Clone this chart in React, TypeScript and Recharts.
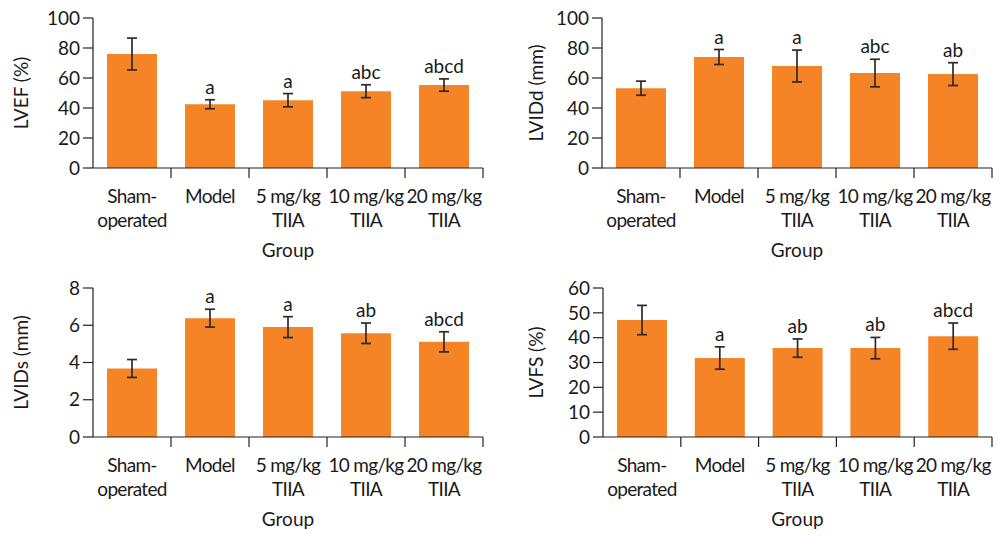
import React from 'react';
import { BarChart, Bar, XAxis, YAxis, ErrorBar, LabelList } from 'recharts';

const groups = ['Sham-operated', 'Model', '5 mg/kg TIIA', '10 mg/kg TIIA', '20 mg/kg TIIA'];
const groupLines = [['Sham-', 'operated'], ['Model'], ['5 mg/kg', 'TIIA'], ['10 mg/kg', 'TIIA'], ['20 mg/kg', 'TIIA']];

const lvefMean = [76, 42.5, 45.2, 51.2, 55.3];
const lvefErr = [10.6, 3, 4.4, 4.3, 4.1];
const lvefSig = ['', 'a', 'a', 'abc', 'abcd'];
const lvefTicks = [0, 20, 40, 60, 80, 100];

const lviddMean = [53.2, 74, 68, 63.3, 62.6];
const lviddErr = [4.7, 5, 10.6, 9.2, 7.6];
const lviddSig = ['', 'a', 'a', 'abc', 'ab'];
const lviddTicks = [0, 20, 40, 60, 80, 100];

const lvidsMean = [3.68, 6.38, 5.9, 5.57, 5.11];
const lvidsErr = [0.48, 0.48, 0.56, 0.55, 0.54];
const lvidsSig = ['', 'a', 'a', 'ab', 'abcd'];
const lvidsTicks = [0, 2, 4, 6, 8];

const lvfsMean = [47.1, 31.8, 35.8, 35.8, 40.6];
const lvfsErr = [5.9, 4.5, 3.7, 4.3, 5.3];
const lvfsSig = ['', 'a', 'ab', 'ab', 'abcd'];
const lvfsTicks = [0, 10, 20, 30, 40, 50, 60];

const FONT = 'Lato, "Open Sans", sans-serif';
const FS = 19;
const TEXT = '#1a1a1a';
const AXIS = '#222222';
const BAR = '#F58426';
const TICK = 10;

type PanelProps = {
  means: number[];
  errs: number[];
  sigs: string[];
  ticks: number[];
  yLabel: string;
  left: number;
  top: number;
  height: number;
  plotLeft: number;
  plotRight: number;
  yLabelX: number;
};

const XTick = (props: any) => {
  const { x, y, payload, width } = props;
  const idx = groups.indexOf(payload.value);
  const off = payload.offset != null ? payload.offset : width / (2 * groups.length);
  const lines = groupLines[idx] || [String(payload.value)];
  return (
    <g>
      <line x1={x + off} x2={x + off} y1={y - TICK} y2={y} stroke={AXIS} strokeWidth={1.2} />
      <text x={x} y={y} textAnchor="middle" fontSize={FS} fontFamily={FONT} fill={TEXT} letterSpacing={-0.7}>
        {lines.map((l, i) => (
          <tspan key={i} x={x} dy={i === 0 ? 25 : 24}>
            {l}
          </tspan>
        ))}
      </text>
    </g>
  );
};

function Panel(p: PanelProps) {
  const data = groups.map((g, i) => ({ name: g, mean: p.means[i], err: p.errs[i], sig: p.sigs[i] }));
  const width = 499;
  const plotTop = 18;
  const xAxisHeight = 102;
  const yMax = p.ticks[p.ticks.length - 1];

  const sigLabel = (lp: any) => {
    const { x, y, width: w, height: h, index, value } = lp;
    if (!value) return null;
    const m = p.means[index];
    const pxPerUnit = h / m;
    const errTop = y - p.errs[index] * pxPerUnit;
    return (
      <text x={x + w / 2} y={errTop - 6} textAnchor="middle" fontSize={FS} fontFamily={FONT} fill={TEXT}>
        {value}
      </text>
    );
  };

  const yLabelContent = (lp: any) => {
    const vb = lp.viewBox || {};
    const cy = vb.y + vb.height / 2;
    return (
      <text
        x={p.yLabelX}
        y={cy}
        transform={`rotate(-90, ${p.yLabelX}, ${cy})`}
        textAnchor="middle"
        dominantBaseline="central"
        fontSize={FS}
        fontFamily={FONT}
        fill={TEXT}
      >
        {p.yLabel}
      </text>
    );
  };

  const xLabelContent = (lp: any) => {
    const vb = lp.viewBox || {};
    return (
      <text x={vb.x + vb.width / 2} y={vb.y + 89} textAnchor="middle" fontSize={FS} fontFamily={FONT} fill={TEXT}>
        Group
      </text>
    );
  };

  return (
    <div style={{ position: 'absolute', left: p.left, top: p.top, width, height: p.height }}>
      <BarChart
        width={width}
        height={p.height}
        data={data}
        margin={{ top: plotTop, right: width - p.plotRight, bottom: 0, left: 0 }}
      >
        <XAxis
          dataKey="name"
          height={xAxisHeight}
          interval={0}
          tickLine={false}
          tickSize={TICK}
          tickMargin={0}
          axisLine={{ stroke: AXIS, strokeWidth: 1.2 }}
          tick={<XTick />}
          label={{ content: xLabelContent }}
        />
        <YAxis
          width={p.plotLeft}
          domain={[0, yMax]}
          ticks={p.ticks}
          interval={0}
          tickSize={TICK}
          tickMargin={3}
          axisLine={{ stroke: AXIS, strokeWidth: 1.2 }}
          tickLine={{ stroke: AXIS, strokeWidth: 1.2 }}
          tick={{ fontSize: FS, fontFamily: FONT, fill: TEXT }}
          label={{ content: yLabelContent }}
        />
        <Bar dataKey="mean" fill={BAR} barSize={50} isAnimationActive={false}>
          <ErrorBar dataKey="err" width={5} stroke="#2b2b2b" strokeWidth={1.7} direction="y" />
          <LabelList dataKey="sig" content={sigLabel} />
        </Bar>
      </BarChart>
    </div>
  );
}

export default function App() {
  return (
    <div style={{ position: 'absolute', left: 0, top: 0, width: 998, height: 539, background: '#fff' }}>
      <Panel means={lvefMean} errs={lvefErr} sigs={lvefSig} ticks={lvefTicks} yLabel="LVEF (%)"
        left={0} top={0} height={270} plotLeft={93} plotRight={483} yLabelX={20} />
      <Panel means={lviddMean} errs={lviddErr} sigs={lviddSig} ticks={lviddTicks} yLabel="LVIDd (mm)"
        left={499} top={0} height={270} plotLeft={103} plotRight={493} yLabelX={36} />
      <Panel means={lvidsMean} errs={lvidsErr} sigs={lvidsSig} ticks={lvidsTicks} yLabel="LVIDs (mm)"
        left={0} top={270} height={269} plotLeft={93} plotRight={483} yLabelX={20} />
      <Panel means={lvfsMean} errs={lvfsErr} sigs={lvfsSig} ticks={lvfsTicks} yLabel="LVFS (%)"
        left={499} top={270} height={269} plotLeft={104} plotRight={493} yLabelX={36} />
    </div>
  );
}
